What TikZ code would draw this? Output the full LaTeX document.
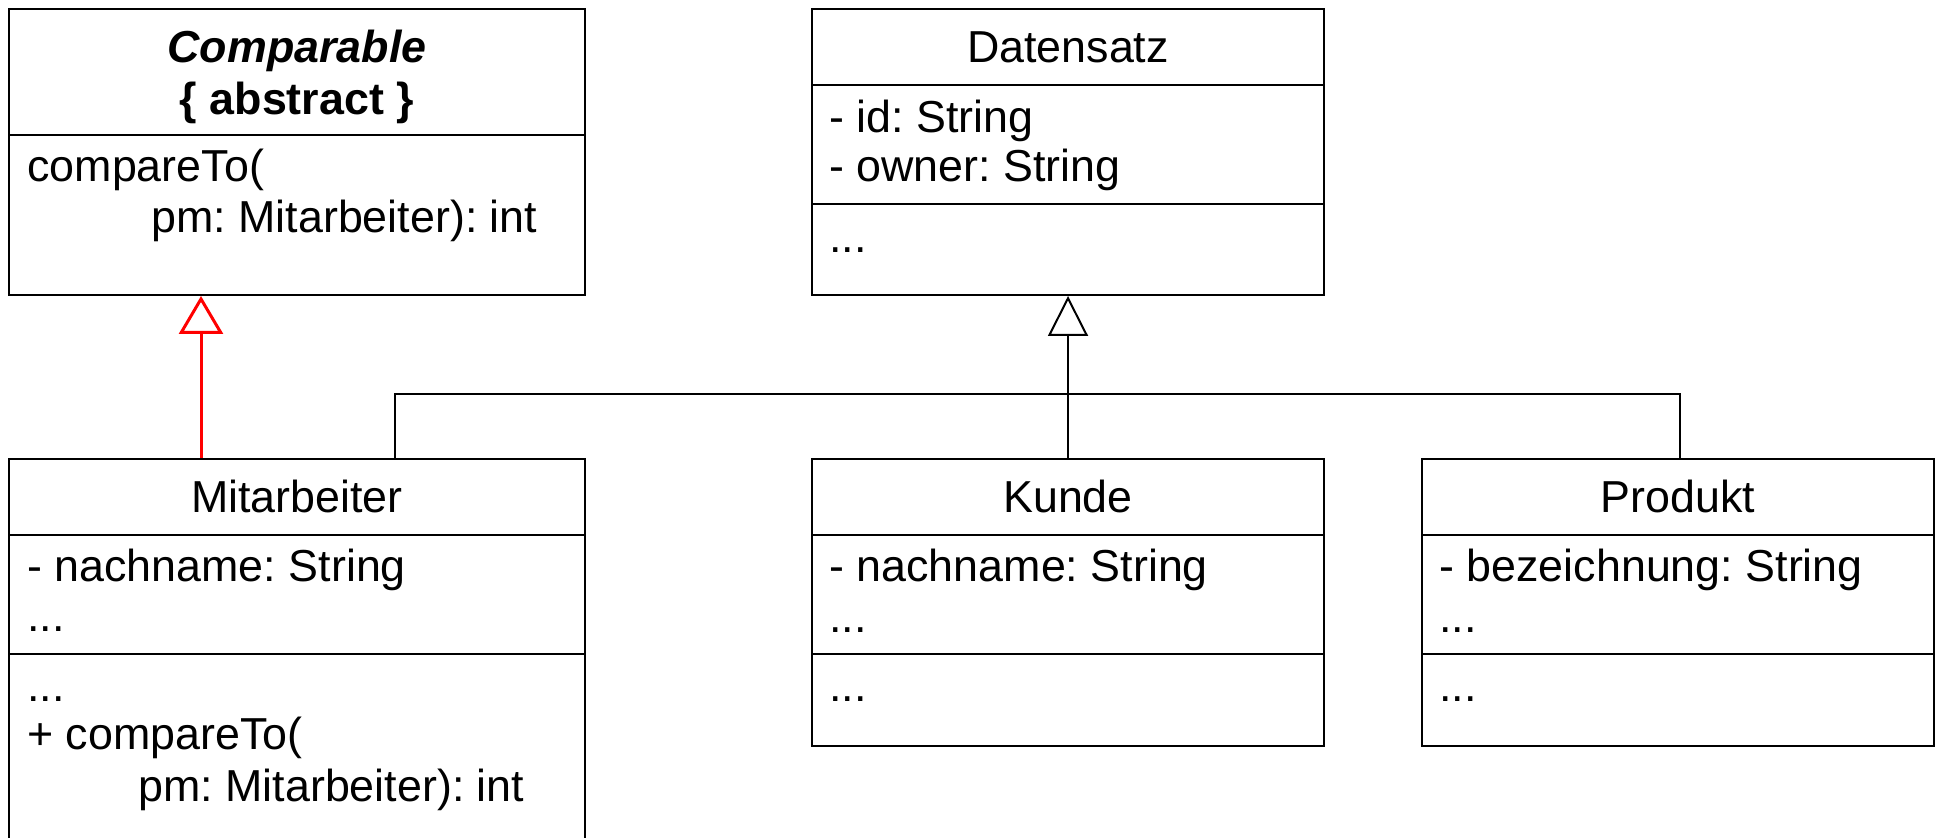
\documentclass[tikz,border=0pt]{standalone}
\usepackage{fontspec}
\setmainfont{Liberation Sans}
\usetikzlibrary{arrows.meta,fit,calc}
\frenchspacing
\newcommand{\umlfont}{\fontsize{22.4}{26}\selectfont}
\begin{document}
\begin{tikzpicture}[x=0.5pt,y=-0.5pt,
  box/.style={draw=black,line width=1pt,inner sep=0pt},
  sep/.style={draw=black,line width=1pt},
  lbl/.style={inner sep=0pt,font=\umlfont,anchor=base west},
  ttl/.style={inner sep=0pt,font=\umlfont,anchor=base},
  gen/.style={draw=black,line width=1pt,-{Triangle[open,length=20pt,width=20pt]}},
  impl/.style={draw=red,line width=1.5pt,-{Triangle[open,length=19pt,width=22pt]}},
  bus/.style={draw=black,line width=1pt}]
\clip (0,0) rectangle (1938,838);

% Comparable (abstract)
\node[box,fit={(9,9)(585,295)}] (comp) {};
\draw[sep] (9,135) -- (585,135);
\node[ttl,font=\umlfont\bfseries\itshape] (compT) at (297,63) {Comparable};
\node[ttl,font=\umlfont\bfseries] (compS) at (297,115) {\{ abstract \}};
\node[lbl] (compO1) at (27,182) {compareTo(};
\node[lbl] (compO2) at (151,233) {pm: Mitarbeiter): int};

% Datensatz
\node[box,fit={(812,9)(1324,295)}] (daten) {};
\draw[sep] (812,85) -- (1324,85);
\draw[sep] (812,204) -- (1324,204);
\node[ttl] (datenT) at (1068,63) {Datensatz};
\node[lbl] (datenA1) at (829,133) {- id: String};
\node[lbl] (datenA2) at (829,182) {- owner: String};
\node[lbl] (datenO1) at (829,253) {...};

% Mitarbeiter
\node[box,fit={(9,459)(585,900)}] (mit) {};
\draw[sep] (9,535) -- (585,535);
\draw[sep] (9,654) -- (585,654);
\node[ttl] (mitT) at (297,513) {Mitarbeiter};
\node[lbl] (mitA1) at (27,582) {- nachname: String};
\node[lbl] (mitA2) at (27,632) {...};
\node[lbl] (mitO1) at (27,702) {...};
\node[lbl] (mitO2) at (27,750) {+ compareTo(};
\node[lbl] (mitO3) at (138,801) {pm: Mitarbeiter): int};

% Kunde
\node[box,fit={(812,459)(1324,746)}] (kunde) {};
\draw[sep] (812,535) -- (1324,535);
\draw[sep] (812,654) -- (1324,654);
\node[ttl] (kundeT) at (1068,513) {Kunde};
\node[lbl] (kundeA1) at (829,582) {- nachname: String};
\node[lbl] (kundeA2) at (829,633) {...};
\node[lbl] (kundeO1) at (829,702) {...};

% Produkt
\node[box,fit={(1422,459)(1934,746)}] (prod) {};
\draw[sep] (1422,535) -- (1934,535);
\draw[sep] (1422,654) -- (1934,654);
\node[ttl] (prodT) at (1678,513) {Produkt};
\node[lbl] (prodA1) at (1439,582) {- bezeichnung: String};
\node[lbl] (prodA2) at (1439,633) {...};
\node[lbl] (prodO1) at (1439,702) {...};

% generalisation tree towards Datensatz
\coordinate (busL) at (395,394);
\coordinate (busR) at (1680,394);
\draw[bus] (mit.north -| busL) -- (busL) -- (busR) -- (prod.north -| busR);
\draw[gen] (kunde.north) -- (daten.south);

% Mitarbeiter implements Comparable
\draw[impl] ($(mit.north west)+(193,0)$) -- ($(comp.south west)+(193,0)$);
\end{tikzpicture}
\end{document}
